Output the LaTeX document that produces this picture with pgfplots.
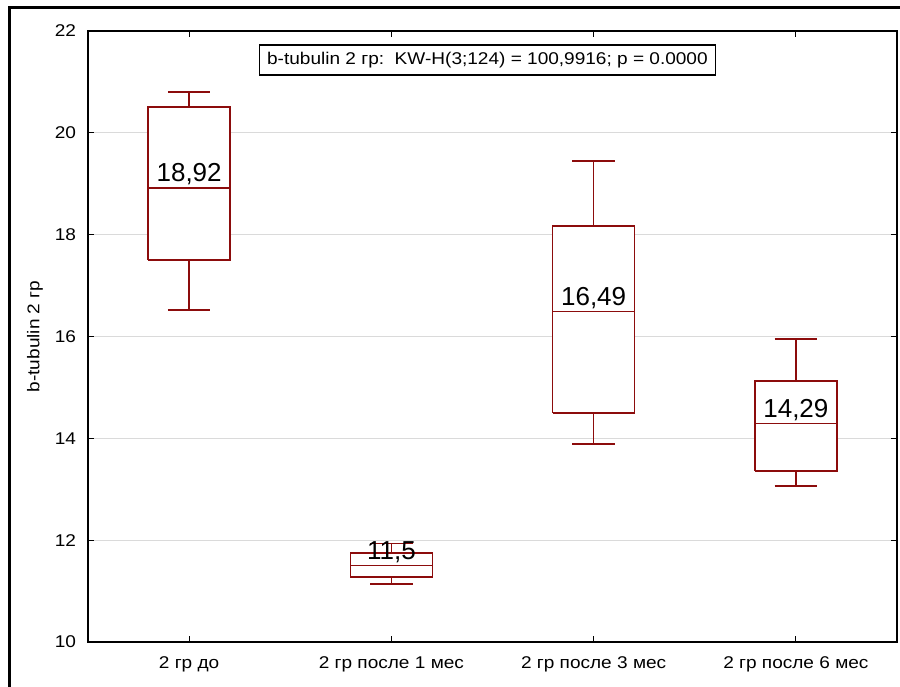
\documentclass[border=0pt]{standalone}
\usepackage{fontspec}
\setmainfont{Liberation Sans}
\newfontfamily\widefont{Liberation Sans}[FakeStretch=1.12]
\usepackage{pgfplots}
\pgfplotsset{compat=1.18}
\definecolor{boxred}{RGB}{140,12,12}
\definecolor{gridgray}{RGB}{218,218,218}
\begin{document}
\begin{tikzpicture}
\useasboundingbox (-44pt,-22pt) rectangle (406pt,321pt);
\draw[line width=1.5pt] (-39pt,-30pt) -- (-39pt,317pt) -- (420pt,317pt);
\begin{axis}[
 at={(0,0)}, anchor=south west,
 scale only axis, width=404.5pt, height=305.5pt,
 xmin=-0.5, xmax=3.5, ymin=10, ymax=22,
 ytick={10,12,...,22},
 xtick={0,1,2,3},
 xticklabels={2 гр до, 2 гр после 1 мес, 2 гр после 3 мес, 2 гр после 6 мес},
 ymajorgrids, grid style={gridgray, line width=0.6pt},
 tick align=inside, major tick length=3pt,
 tick style={black, line width=0.6pt},
 axis line style={black, line width=0.8pt},
 /pgf/number format/assume math mode=true,
 ticklabel style={font=\widefont\fontsize{8.5}{10}\selectfont},
 xticklabel style={yshift=-4pt},
 yticklabel style={xshift=-2.5pt},
 ylabel={b-tubulin 2 гр},
 ylabel style={font=\widefont\fontsize{8.5}{10}\selectfont, at={(axis description cs:-0.0655,0.5)}, anchor=center},
 unbounded coords=jump,
 cycle list={{boxred, solid, mark=none}},
]
% group 0: 2 гр до  (q1 17.50, median 18.92, q3 20.51, whiskers 16.52 / 20.80)
\addplot[boxred, solid, mark=none, line width=0.75pt, fill=white] coordinates {(-0.2025,17.50) (0.2025,17.50) (0.2025,20.51) (-0.2025,20.51) (-0.2025,17.50)};
\addplot[boxred, solid, mark=none, line width=0.75pt] coordinates {(-0.2025,18.92) (0.2025,18.92) (nan,nan) (0,20.51) (0,20.80) (nan,nan) (-0.105,20.80) (0.105,20.80) (nan,nan) (0,17.50) (0,16.52) (nan,nan) (-0.105,16.52) (0.105,16.52)};
% group 1: после 1 мес (11.28, 11.50, 11.75; 11.14 / 11.93)
\addplot[boxred, solid, mark=none, line width=0.75pt, fill=white] coordinates {(0.7975,11.28) (1.2025,11.28) (1.2025,11.75) (0.7975,11.75) (0.7975,11.28)};
\addplot[boxred, solid, mark=none, line width=0.75pt] coordinates {(0.7975,11.50) (1.2025,11.50) (nan,nan) (1,11.75) (1,11.93) (nan,nan) (0.895,11.93) (1.105,11.93) (nan,nan) (1,11.28) (1,11.14) (nan,nan) (0.895,11.14) (1.105,11.14)};
% group 2: после 3 мес (14.50, 16.49, 18.17; 13.89 / 19.45)
\addplot[boxred, solid, mark=none, line width=0.75pt, fill=white] coordinates {(1.7975,14.50) (2.2025,14.50) (2.2025,18.17) (1.7975,18.17) (1.7975,14.50)};
\addplot[boxred, solid, mark=none, line width=0.75pt] coordinates {(1.7975,16.49) (2.2025,16.49) (nan,nan) (2,18.17) (2,19.45) (nan,nan) (1.895,19.45) (2.105,19.45) (nan,nan) (2,14.50) (2,13.89) (nan,nan) (1.895,13.89) (2.105,13.89)};
% group 3: после 6 мес (13.36, 14.29, 15.13; 13.06 / 15.95)
\addplot[boxred, solid, mark=none, line width=0.75pt, fill=white] coordinates {(2.7975,13.36) (3.2025,13.36) (3.2025,15.13) (2.7975,15.13) (2.7975,13.36)};
\addplot[boxred, solid, mark=none, line width=0.75pt] coordinates {(2.7975,14.29) (3.2025,14.29) (nan,nan) (3,15.13) (3,15.95) (nan,nan) (2.895,15.95) (3.105,15.95) (nan,nan) (3,13.36) (3,13.06) (nan,nan) (2.895,13.06) (3.105,13.06)};
\node[anchor=base, font=\fontsize{13}{15}\selectfont, yshift=3pt] at (axis cs:0,18.92) {18,92};
\node[anchor=base, font=\fontsize{13}{15}\selectfont, yshift=3pt] at (axis cs:1,11.50) {11,5};
\node[anchor=base, font=\fontsize{13}{15}\selectfont, yshift=3pt] at (axis cs:2,16.49) {16,49};
\node[anchor=base, font=\fontsize{13}{15}\selectfont, yshift=3pt] at (axis cs:3,14.29) {14,29};
\node[draw=black, line width=0.6pt, fill=white, font=\widefont\fontsize{8.5}{10}\selectfont, inner xsep=4pt, inner ysep=3.5pt] at (axis cs:1.475,21.43) {b-tubulin 2 гр:\ \ KW-H(3;124) = 100,9916; p = 0.0000};
\end{axis}
\end{tikzpicture}
\end{document}
